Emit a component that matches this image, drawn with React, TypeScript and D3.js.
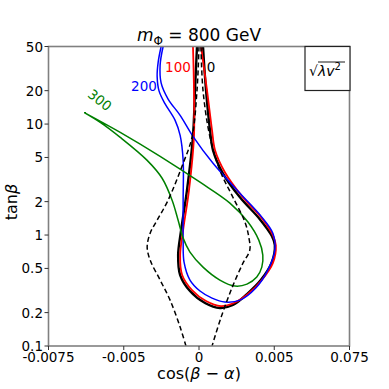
import React from "react";
import * as d3 from "d3";

// ---- data (x = cos(beta-alpha), y = tan beta) ----
const xTickValues = [-0.0075, -0.00375, 0, 0.00375, 0.0075];
const xTickLabels = ["-0.0075", "-0.005", "0", "0.005", "0.075"];
const yTickValues = [0.1, 0.2, 0.5, 1, 2, 5, 10, 20, 50];
const yTickLabels = ["0.1", "0.2", "0.5", "1", "2", "5", "10", "20", "50"];

type P = [number, number];

const curve0: P[] = [
  [-0.0001, 50], [-0.0002, 20.1], [-0.0003, 7.75], [-0.0006, 2.53], [-0.00089, 1.11],
  [-0.00104, 0.659], [-0.00094, 0.436], [-0.00045, 0.313], [0.0003, 0.244], [0.00104, 0.22],
  [0.00169, 0.234], [0.00239, 0.294], [0.00308, 0.393], [0.00363, 0.57], [0.00378, 0.81],
  [0.00363, 0.98], [0.00303, 1.39], [0.00204, 2.19], [0.00119, 3.6], [0.0007, 5.8],
  [0.00055, 8.78], [0.00035, 20.1], [0.0002, 50],
];

const curve100: P[] = [
  [-0.0003, 50], [-0.00025, 20.1], [-0.00025, 7.75], [-0.0005, 2.53], [-0.00079, 1.11],
  [-0.00094, 0.659], [-0.00084, 0.436], [-0.00035, 0.319], [0.00035, 0.254], [0.00109, 0.229],
  [0.00174, 0.244], [0.00244, 0.294], [0.00313, 0.393], [0.00368, 0.558], [0.00383, 0.81],
  [0.00368, 1.0], [0.00313, 1.42], [0.00214, 2.24], [0.00129, 3.68], [0.0008, 5.8],
  [0.00065, 8.78], [0.0004, 20.1], [0.0001, 50],
];

const curve200: P[] = [
  [-0.001888, 50], [-0.002036, 36], [-0.002086, 27], [-0.001988, 19.8], [-0.001689, 15.2],
  [-0.00119, 10.8], [-0.00094, 7.91], [-0.00079, 4.71], [-0.00079, 2.06], [-0.00079, 0.9],
  [-0.000745, 0.57], [-0.00045, 0.393], [0.00005, 0.313], [0.00065, 0.27], [0.00129, 0.249],
  [0.00204, 0.259], [0.00283, 0.333], [0.00343, 0.483], [0.00378, 0.731], [0.00368, 1.04],
  [0.00313, 1.45], [0.00204, 2.38], [0.0007, 4.43], [-0.0003, 7.75], [-0.00094, 11.98],
  [-0.00154, 16.8], [-0.001888, 23.5], [-0.001938, 34], [-0.001788, 50],
];

const curve300: P[] = [
  [-0.005715, 12.7], [-0.003925, 8.42], [-0.001937, 5.12], [0.00005, 2.99], [0.00154, 1.94],
  [0.00244, 1.31], [0.00298, 0.9], [0.00318, 0.659], [0.00313, 0.514], [0.00288, 0.418],
  [0.00239, 0.361], [0.00179, 0.347], [0.00104, 0.393], [0.0002, 0.514], [-0.00045, 0.702],
  [-0.00079, 0.938], [-0.00104, 1.36], [-0.00134, 2.06], [-0.001838, 3.25], [-0.002583, 4.71],
  [-0.003925, 7.59], [-0.00492, 10.36], [-0.005715, 12.7],
];

const dashedLeft: P[] = [
  [0, 50], [-0.0001, 20.1], [-0.00035, 7.59], [-0.00079, 4.43], [-0.00154, 2.06],
  [-0.002086, 1.36], [-0.002434, 1.04], [-0.002583, 0.778], [-0.002434, 0.594],
  [-0.001937, 0.393], [-0.00144, 0.259], [-0.00094, 0.148], [-0.00065, 0.1],
];

const dashedRight: P[] = [
  [0.0001, 50], [0.0002, 20.1], [0.00055, 7.59], [0.00104, 3.83], [0.00169, 2.19],
  [0.00229, 1.31], [0.00248, 0.96], [0.00253, 0.731], [0.00219, 0.558], [0.00164, 0.333],
  [0.00109, 0.179], [0.00065, 0.1],
];

const contours = [
  { name: "0", pts: curve0, color: "#000000", width: 2.4 },
  { name: "100", pts: curve100, color: "#ff0000", width: 1.8 },
  { name: "200", pts: curve200, color: "#0000ff", width: 1.5 },
  { name: "300", pts: curve300, color: "#008000", width: 1.5 },
];

const W = 389;
const H = 389;
const L = 48.5, R = 349.5, T = 46.5, B = 346;
const FONT = "DejaVu Sans, sans-serif";

export default function App() {
  const x = d3.scaleLinear().domain([-0.0075, 0.0075]).range([L, R]);
  const y = d3.scaleLog().domain([0.1, 50]).range([B, T]);
  const line = d3
    .line<P>()
    .x((d) => x(d[0]))
    .y((d) => y(d[1]))
    .curve(d3.curveCatmullRom.alpha(0.5));

  return (
    <svg
      width={W}
      height={H}
      style={{ position: "absolute", left: 0, top: 0, background: "#fff" }}
      fontFamily={FONT}
    >
      <defs>
        <clipPath id="plotclip">
          <rect x={L} y={T} width={R - L} height={B - T} />
        </clipPath>
      </defs>
      <g clipPath="url(#plotclip)" fill="none">
        {contours.map((c) => (
          <path key={c.name} d={line(c.pts) || ""} stroke={c.color} strokeWidth={c.width} />
        ))}
        <path d={line(dashedLeft) || ""} stroke="#000" strokeWidth={1.5} strokeDasharray="5,3" />
        <path d={line(dashedRight) || ""} stroke="#000" strokeWidth={1.5} strokeDasharray="5,3" />
      </g>

      {/* frame */}
      <rect x={L} y={T} width={R - L} height={B - T} fill="none" stroke="#808080" strokeWidth={1.6} />

      {/* x ticks */}
      {xTickValues.map((v, i) => (
        <g key={"xt" + i}>
          <line x1={x(v)} x2={x(v)} y1={B} y2={B + 4} stroke="#333" strokeWidth={1} />
          <text x={x(v)} y={362} textAnchor="middle" fontSize={13.5} fill="#000">
            {xTickLabels[i]}
          </text>
        </g>
      ))}
      {/* y ticks */}
      {yTickValues.map((v, i) => (
        <g key={"yt" + i}>
          <line x1={L - 4} x2={L} y1={y(v)} y2={y(v)} stroke="#333" strokeWidth={1} />
          <text x={43} y={y(v) + 5} textAnchor="end" fontSize={13.5} fill="#000">
            {yTickLabels[i]}
          </text>
        </g>
      ))}

      {/* axis labels */}
      <text x={199} y={379} textAnchor="middle" fontSize={16}>
        cos(<tspan fontStyle="italic">β</tspan> − <tspan fontStyle="italic">α</tspan>)
      </text>
      <text transform="translate(17,202) rotate(-90)" textAnchor="middle" fontSize={16}>
        tan<tspan fontStyle="italic">β</tspan>
      </text>

      {/* title */}
      <text x={199} y={41} textAnchor="middle" fontSize={17}>
        <tspan fontStyle="italic">m</tspan>
        <tspan fontSize={12} dy={4}>Φ</tspan>
        <tspan dy={-4}> = 800 GeV</tspan>
      </text>

      {/* contour labels */}
      <text x={211} y={72} textAnchor="middle" fontSize={13.5} fill="#000">0</text>
      <text x={178} y={72} textAnchor="middle" fontSize={13.5} fill="#ff0000">100</text>
      <text x={144} y={91} textAnchor="middle" fontSize={13.5} fill="#0000ff">200</text>
      <text
        transform="translate(100,100) rotate(38)"
        textAnchor="middle"
        dominantBaseline="central"
        fontSize={13.5}
        fill="#008000"
      >
        300
      </text>

      {/* legend box */}
      <rect x={305} y={46.5} width={45} height={44} fill="#fff" stroke="#222" strokeWidth={1.2} />
      <text x={309} y={76} fontSize={14} fill="#000">
        √<tspan fontStyle="italic">λv</tspan>
        <tspan fontSize={10} dy={-6}>2</tspan>
      </text>
      <line x1={318} x2={345} y1={62} y2={62} stroke="#000" strokeWidth={0.9} />
    </svg>
  );
}
